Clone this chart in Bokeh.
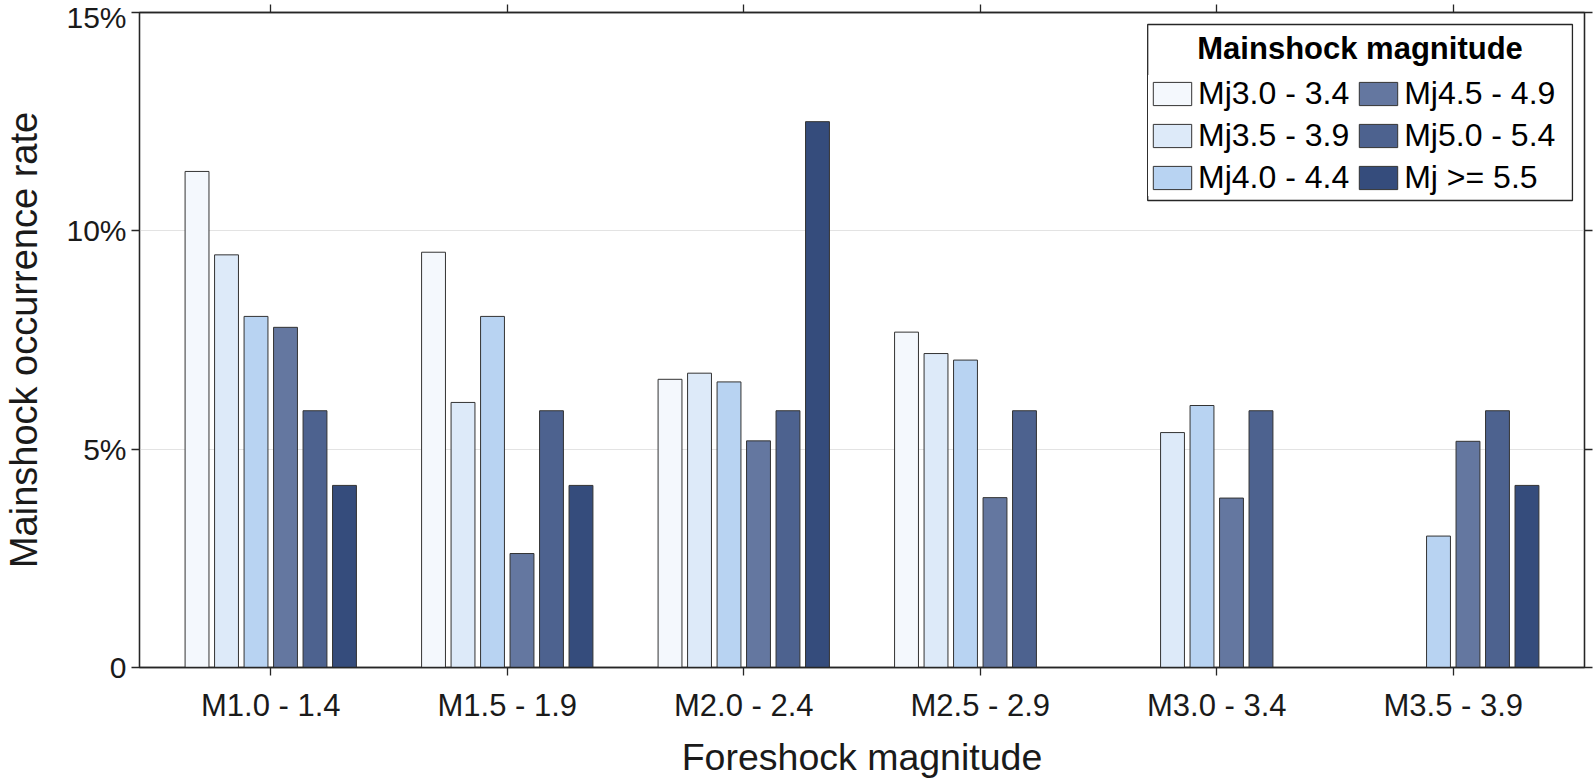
from bokeh.plotting import figure
from bokeh.models import (Range1d, FixedTicker, LinearAxis, Legend, LegendItem,
                          BoxAnnotation, Label)
from bokeh.embed import file_html
from bokeh.resources import INLINE

# ---------------- data ----------------
categories = ["M1.0 - 1.4", "M1.5 - 1.9", "M2.0 - 2.4",
              "M2.5 - 2.9", "M3.0 - 3.4", "M3.5 - 3.9"]
series_names = ["Mj3.0 - 3.4", "Mj3.5 - 3.9", "Mj4.0 - 4.4",
                "Mj4.5 - 4.9", "Mj5.0 - 5.4", "Mj >= 5.5"]
mj30_34 = [11.36, 9.51, 6.60, 7.68, 0.0, 0.0]
mj35_39 = [9.45, 6.07, 6.74, 7.19, 5.38, 0.0]
mj40_44 = [8.04, 8.04, 6.54, 7.04, 6.00, 3.01]
mj45_49 = [7.79, 2.61, 5.19, 3.89, 3.88, 5.18]
mj50_54 = [5.88, 5.88, 5.88, 5.88, 5.88, 5.88]
mj55_up = [4.17, 4.17, 12.50, 0.0, 0.0, 4.17]
ytick_values = [0, 5, 10, 15]
ytick_labels = ["0", "5%", "10%", "15%"]
x_title = "Foreshock magnitude"
y_title = "Mainshock occurrence rate"
legend_title = "Mainshock magnitude"

series = [mj30_34, mj35_39, mj40_44, mj45_49, mj50_54, mj55_up]
colors = ["#F4F8FD", "#DDEAF9", "#B8D3F2", "#6477A0", "#4D628F", "#354C7C"]
edge = "#333333"
FONT = "Liberation Sans"
AX = "#262626"

PITCH = 0.1247
BAR_W = 0.101
group_x = [i + 1 for i in range(len(categories))]

p = figure(width=1594, height=782, output_backend="svg", toolbar_location=None,
           x_range=Range1d(0.445, 6.555), y_range=Range1d(0, 15),
           min_border_left=138, min_border_right=10, min_border_top=12,
           min_border_bottom=115)
p.background_fill_color = "white"
p.border_fill_color = "white"
p.outline_line_color = AX
p.outline_line_width = 1.3

renderers = []
n = len(series)
for k, vals in enumerate(series):
    xs = [g + (k - (n - 1) / 2) * PITCH for g in group_x]
    r = p.vbar(x=xs, top=vals, bottom=0, width=BAR_W, fill_color=colors[k],
               line_color=edge, line_width=1)
    renderers.append(r)

# grid
p.xgrid.visible = False
p.ygrid.ticker = FixedTicker(ticks=ytick_values)
p.ygrid.grid_line_color = "#E3E3E3"
p.ygrid.grid_line_width = 1.2


def style_axis(ax):
    ax.axis_line_color = AX
    ax.axis_line_width = 1.3
    ax.major_tick_line_color = AX
    ax.major_tick_line_width = 1.3
    ax.major_tick_out = 8
    ax.major_tick_in = 0
    ax.minor_tick_line_color = None
    ax.major_label_text_font = FONT
    ax.major_label_text_color = "#1a1a1a"
    ax.axis_label_text_font = FONT
    ax.axis_label_text_font_style = "normal"
    ax.axis_label_text_color = "#1a1a1a"


xa = p.xaxis[0]
style_axis(xa)
xa.ticker = FixedTicker(ticks=group_x)
xa.major_label_overrides = {g: c for g, c in zip(group_x, categories)}
xa.major_label_text_font_size = "31px"
xa.major_label_standoff = 12
xa.axis_label = x_title
xa.axis_label_text_font_size = "37.5px"
xa.axis_label_standoff = 10

ya = p.yaxis[0]
style_axis(ya)
ya.ticker = FixedTicker(ticks=ytick_values)
ya.major_label_overrides = {v: t for v, t in zip(ytick_values, ytick_labels)}
ya.major_label_text_font_size = "30px"
ya.major_label_standoff = 5
ya.axis_label = y_title
ya.axis_label_text_font_size = "38px"
ya.axis_label_standoff = 18

ra = LinearAxis(ticker=FixedTicker(ticks=ytick_values),
                major_label_overrides={v: "" for v in ytick_values})
style_axis(ra)
ra.major_label_standoff = 0
ra.major_label_text_font_size = "1px"
p.add_layout(ra, "right")

ta = LinearAxis(ticker=FixedTicker(ticks=group_x),
                major_label_overrides={g: "" for g in group_x})
style_axis(ta)
ta.major_label_standoff = 0
ta.major_label_text_font_size = "1px"
p.add_layout(ta, "above")

# legend frame + title
box = BoxAnnotation(left=4.708, right=6.504, top=14.725, bottom=10.695,
                    fill_color=None, line_color=AX, line_width=1.3,
                    line_alpha=1.0)
p.add_layout(box)
p.add_layout(Label(x=5.606, y=14.18, text=legend_title, text_font=FONT,
                   text_font_size="31px", text_font_style="bold",
                   text_align="center", text_baseline="middle",
                   text_color="#000000"))

items = [LegendItem(label=nm, renderers=[r]) for nm, r in zip(series_names, renderers)]
legend = Legend(items=items, ncols=2, location=(1009, 471),
                orientation="vertical")
legend.padding = 0
legend.margin = 0
legend.spacing = 5
legend.glyph_width = 48
legend.glyph_height = 29
legend.label_standoff = 2
legend.label_text_font = FONT
legend.label_text_font_size = "32px"
legend.label_text_color = "#000000"
legend.border_line_color = None
legend.background_fill_color = "white"
legend.background_fill_alpha = 1.0
p.add_layout(legend)

open("out.html", "w").write(file_html(p, INLINE))
